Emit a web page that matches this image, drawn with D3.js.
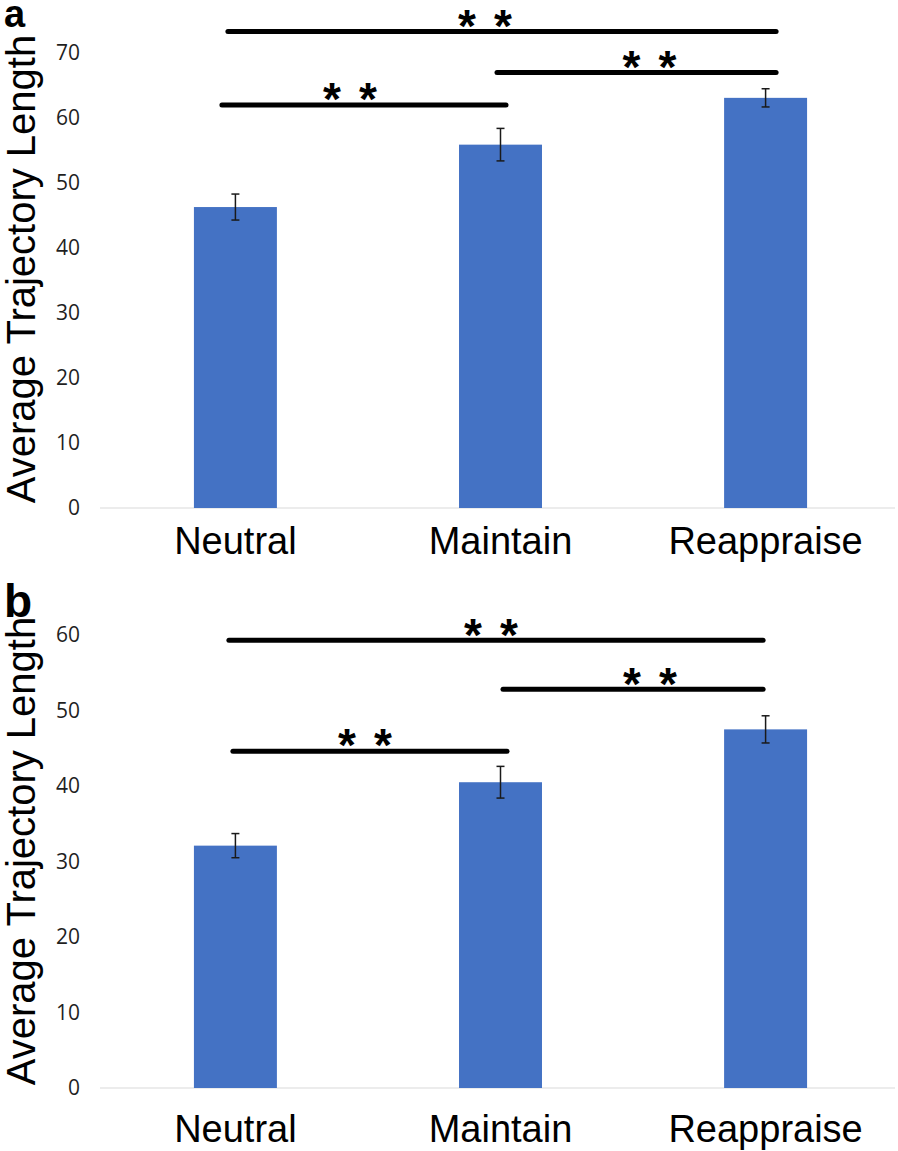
<!DOCTYPE html>
<html>
<head>
<meta charset="utf-8">
<script src="https://cdn.jsdelivr.net/npm/d3@7"></script>
<style>
  html, body { margin: 0; padding: 0; background: #fff; }
  svg { display: block; }
</style>
</head>
<body>
<svg id="chart" width="898" height="1151"></svg>
<script>
// ---------- DATA ----------
const categories = ["Neutral", "Maintain", "Reappraise"];

const panelLabels = ["a", "b"];
const yTitle = "Average Trajectory Length";

const meansA = [46.3, 55.9, 63.1];
const errorsA = [2.0, 2.5, 1.4];
const ticksA = [0, 10, 20, 30, 40, 50, 60, 70];
const yMaxA = 70;

const meansB = [32.1, 40.5, 47.5];
const errorsB = [1.6, 2.1, 1.8];
const ticksB = [0, 10, 20, 30, 40, 50, 60];
const yMaxB = 60;

// significance brackets: [fromCategory, toCategory, level in data units]
const sigLabel = "*";
const sigA = [
  ["Neutral", "Reappraise", 73.3],
  ["Maintain", "Reappraise", 67.0],
  ["Neutral", "Maintain", 62.0]
];
const sigB = [
  ["Neutral", "Reappraise", 59.3],
  ["Maintain", "Reappraise", 52.8],
  ["Neutral", "Maintain", 44.6]
];

// ---------- LAYOUT ----------
const svg = d3.select("#chart");
const barColor = "#4472C4";
const fontMain = "'Liberation Sans', Arial, sans-serif";

// per-bracket layout tweaks: [left inset, right inset, star-center offset]
const panels = [
  { label: panelLabels[0], means: meansA, errors: errorsA, ticks: ticksA, yMax: yMaxA, sig: sigA,
    y0: 508, yTop: 53, labelY: 27, labelSize: 38, titleCenter: 269, catY: 554,
    bracketLayout: [[-7.5, 10.5, -17], [-3.5, 10.5, 13], [-13.5, 5.5, -14]] },
  { label: panelLabels[1], means: meansB, errors: errorsB, ticks: ticksB, yMax: yMaxB, sig: sigB,
    y0: 1088, yTop: 635, labelY: 617, labelSize: 46, titleCenter: 851, catY: 1142,
    bracketLayout: [[-6.5, -2.5, -5], [2.5, -2.5, 17], [-2.5, 6.5, -5]] }
];

const x = d3.scaleBand()
  .domain(categories)
  .range([103, 898])
  .paddingInner(0.687)
  .paddingOuter(0.343);

const cx = d => x(d) + x.bandwidth() / 2;

panels.forEach(p => {
  const g = svg.append("g");
  const y = d3.scaleLinear().domain([0, p.yMax]).range([p.y0, p.yTop]);

  // baseline axis line
  g.append("line")
    .attr("x1", 100).attr("x2", 895)
    .attr("y1", y(0)).attr("y2", y(0))
    .attr("stroke", "#d9d9d9").attr("stroke-width", 1.2);

  // y tick labels via axis
  const yAxis = d3.axisLeft(y).tickValues(p.ticks).tickSize(0).tickPadding(0);
  const ax = g.append("g").attr("transform", "translate(80,0)").call(yAxis);
  ax.select(".domain").remove();
  ax.selectAll("text")
    .attr("font-family", "'Open Sans', sans-serif")
    .attr("font-size", 21)
    .attr("fill", "#1f1f1f");

  // bars
  g.selectAll("rect.bar")
    .data(categories)
    .join("rect")
    .attr("class", "bar")
    .attr("x", d => x(d))
    .attr("width", x.bandwidth())
    .attr("y", (d, i) => y(p.means[i]))
    .attr("height", (d, i) => y(0) - y(p.means[i]))
    .attr("fill", barColor);

  // error bars
  const eb = g.selectAll("g.err")
    .data(categories)
    .join("g")
    .attr("class", "err");
  eb.append("line")
    .attr("x1", cx).attr("x2", cx)
    .attr("y1", (d, i) => y(p.means[i] + p.errors[i]))
    .attr("y2", (d, i) => y(p.means[i] - p.errors[i]))
    .attr("stroke", "#1a1a1a").attr("stroke-width", 1.5);
  [1, -1].forEach(s => {
    eb.append("line")
      .attr("x1", d => cx(d) - 4).attr("x2", d => cx(d) + 4)
      .attr("y1", (d, i) => y(p.means[i] + s * p.errors[i]))
      .attr("y2", (d, i) => y(p.means[i] + s * p.errors[i]))
      .attr("stroke", "#1a1a1a").attr("stroke-width", 1.5);
  });

  // category labels
  g.selectAll("text.cat")
    .data(categories)
    .join("text")
    .attr("class", "cat")
    .attr("x", cx)
    .attr("y", p.catY)
    .attr("text-anchor", "middle")
    .attr("font-family", fontMain)
    .attr("font-size", 38)
    .attr("fill", "#000")
    .text(d => d);

  // y title
  g.append("text")
    .attr("transform", `translate(35,${p.titleCenter}) rotate(-90)`)
    .attr("text-anchor", "middle")
    .attr("font-family", fontMain)
    .attr("font-size", 40)
    .attr("fill", "#000")
    .text(yTitle);

  // panel label
  g.append("text")
    .attr("x", 4).attr("y", p.labelY)
    .attr("font-family", fontMain)
    .attr("font-weight", "bold")
    .attr("font-size", p.labelSize)
    .attr("fill", "#000")
    .text(p.label);

  // significance brackets
  p.sig.forEach(([a, b, lvl], k) => {
    const [li, ri, so] = p.bracketLayout[k];
    const x1 = cx(a) + li, x2 = cx(b) + ri;
    const yy = y(lvl);
    g.append("line")
      .attr("x1", x1).attr("x2", x2)
      .attr("y1", yy).attr("y2", yy)
      .attr("stroke", "#000").attr("stroke-width", 5)
      .attr("stroke-linecap", "round");
    const mid = (x1 + x2) / 2 + so;
    const fs = 46;
    [-18, 18].forEach(dx => {
      g.append("text")
        .attr("x", mid + dx)
        .attr("y", yy - 16 + 0.57 * fs)
        .attr("text-anchor", "middle")
        .attr("font-family", fontMain)
        .attr("font-weight", "bold")
        .attr("font-size", fs)
        .attr("fill", "#000")
        .text(sigLabel);
    });
  });
});
</script>
</body>
</html>
